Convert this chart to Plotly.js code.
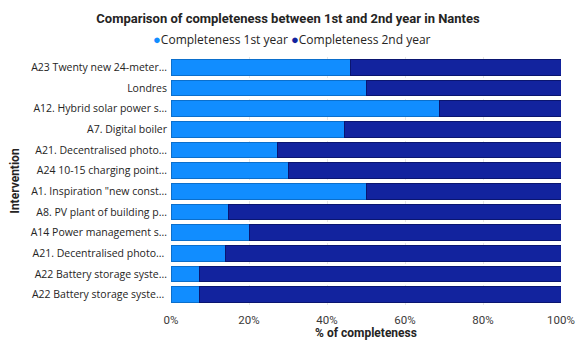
<!DOCTYPE html>
<html>
<head>
<meta charset="utf-8">
<script src="https://cdn.plot.ly/plotly-3.0.1.min.js"></script>
<style>html,body{margin:0;padding:0;background:#fff;}#chart{width:576px;height:340px;}</style>
</head>
<body>
<div id="chart"></div>
<script>
const categories = [
  "A23 Twenty new 24-meter...",
  "Londres",
  "A12. Hybrid solar power s...",
  "A7. Digital boiler",
  "A21. Decentralised photo...",
  "A24 10-15 charging point...",
  "A1. Inspiration \"new const...",
  "A8. PV plant of building p...",
  "A14 Power management s...",
  "A21. Decentralised photo... ",
  "A22 Battery storage syste...",
  "A22 Battery storage syste... "
];
const year1 = [46.1, 50, 68.8, 44.4, 27.2, 30, 50, 14.7, 20, 14.1, 7.3, 7.3];
const year2 = [53.9, 50, 31.2, 55.6, 72.8, 70, 50, 85.3, 80, 85.9, 92.7, 92.7];
const seriesNames = ["Completeness 1st year", "Completeness 2nd year"];
const colors = ["#118DFF", "#12239E"];
const xTickVals = [0, 20, 40, 60, 80, 100];
const xTickText = ["0%", "20%", "40%", "60%", "80%", "100%"];

const font = "Open Sans, Noto Sans, sans-serif";
const traces = [
  {type:"bar", orientation:"h", y:categories, x:year1, name:seriesNames[0], showlegend:false,
   marker:{color:colors[0], line:{color:"#0B6FCC", width:1}}, hoverinfo:"x"},
  {type:"bar", orientation:"h", y:categories, x:year2, name:seriesNames[1], showlegend:false,
   marker:{color:colors[1], line:{color:"#0A1570", width:1}}, hoverinfo:"x"}
];
const legendText = seriesNames.map((n, i) =>
  "<span style='color:" + colors[i] + ";font-size:13px'>●</span>" + n).join(" ");
const layout = {
  width:576, height:340,
  margin:{l:171, r:15, t:57, b:35},
  barmode:"stack",
  bargap:0.25,
  showlegend:false,
  paper_bgcolor:"#fff", plot_bgcolor:"#fff",
  font:{family:font, size:11, color:"#252423"},
  title:{text:"Comparison of completeness between 1st and 2nd year in Nantes",
         font:{family:"Roboto, sans-serif", size:13, color:"#252423", weight:"bold"},
         x:0.5, xanchor:"center", y:0.947, yanchor:"middle", xref:"container", yref:"container"},
  annotations:[{text:legendText, xref:"paper", yref:"paper", x:(292-171)/390, xanchor:"center",
                y:1 + (57-39)/248, yanchor:"middle", showarrow:false,
                font:{family:font, size:12, color:"#252423"}}],
  xaxis:{range:[0,100], tickmode:"array", tickvals:xTickVals, ticktext:xTickText, showgrid:true,
         gridcolor:"#E6E6E6", griddash:"dot", zeroline:false, showline:false, ticks:"",
         tickfont:{family:"Roboto, sans-serif", size:11.5, color:"#3B3A39"}, automargin:false,
         ticklabelstandoff:6,
         title:{text:"% of completeness", font:{family:"Roboto, sans-serif", size:12, color:"#252423", weight:"bold"}, standoff:14}},
  yaxis:{autorange:"reversed", type:"category", ticks:"", showgrid:false, zeroline:false, automargin:false,
         tickfont:{family:font, size:10.5, color:"#252423"}, ticklabelstandoff:3,
         title:{text:"Intervention", font:{family:"Roboto, sans-serif", size:12, color:"#252423", weight:"bold"}, standoff:8}}
};
Plotly.newPlot("chart", traces, layout, {displayModeBar:false, staticPlot:true});
</script>
</body>
</html>
